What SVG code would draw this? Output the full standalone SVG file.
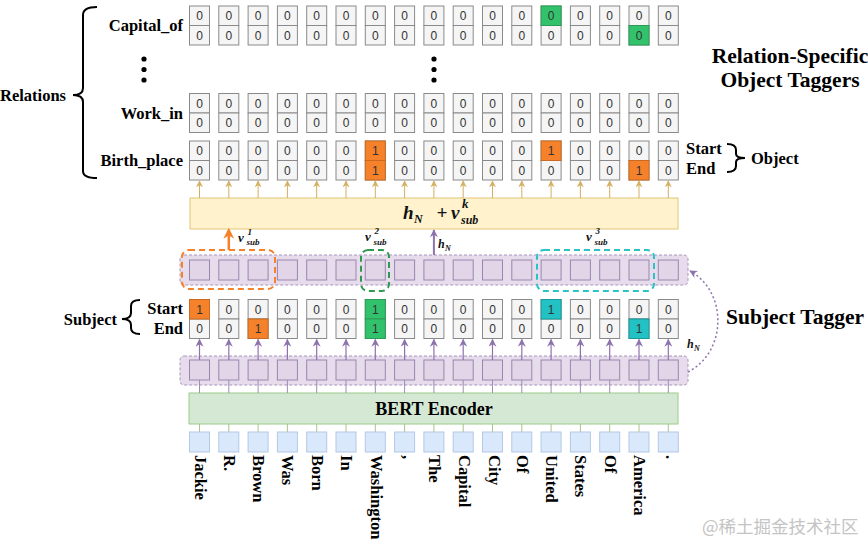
<svg xmlns="http://www.w3.org/2000/svg" width="868" height="543" viewBox="0 0 868 543">
<style>
.lbl{font-family:"Liberation Serif","Times New Roman",serif;font-weight:bold;fill:#000}
.num{font-family:"Liberation Sans",Arial,sans-serif;font-size:12px;fill:#333;text-anchor:middle}
.cell{fill:#f5f5f5;stroke:#8a8a8a;stroke-width:1}
.math{font-family:"Liberation Serif","Times New Roman",serif;font-weight:bold;font-style:italic;fill:#111}
.sq{fill:#e1d5e7;stroke:#9a86ad;stroke-width:1}
.band{fill:#e6dcec;stroke:#a995bb;stroke-width:1;stroke-dasharray:3 2}
.tok{fill:#dae8fc;stroke:#b3c8e6;stroke-width:1}
.or{fill:#f5822a;stroke:#c96a20}
.gr{fill:#33c26c;stroke:#2a9c57}
.cy{fill:#22c1c3;stroke:#1a9a9c}
.brace{fill:none;stroke:#000;stroke-width:2}
.word{font-family:"Liberation Serif","Times New Roman",serif;font-weight:bold;font-size:16.5px;fill:#000}
</style>
<defs>
<g id="pair">
<rect class="cell" x="0" y="0" width="20" height="19.5"/>
<rect class="cell" x="0" y="19.5" width="20" height="19.5"/>
<text class="num" x="10" y="14">0</text>
<text class="num" x="10" y="33.5">0</text>
</g>
<rect id="sq" class="sq" width="20" height="20"/>
<rect id="tk" class="tok" width="20" height="20"/>
<marker id="ag" viewBox="0 0 10 10" refX="9" refY="5" markerWidth="7" markerHeight="7" markerUnits="userSpaceOnUse" orient="auto"><path d="M0,0 L10,5 L0,10 L3,5 z" fill="#d4b062"/></marker>
<marker id="ap" viewBox="0 0 10 10" refX="9" refY="5" markerWidth="8" markerHeight="8" markerUnits="userSpaceOnUse" orient="auto"><path d="M0,0 L10,5 L0,10 L3,5 z" fill="#8e72ad"/></marker>
<marker id="ao" viewBox="0 0 10 10" refX="8" refY="5" markerWidth="11" markerHeight="11" markerUnits="userSpaceOnUse" orient="auto"><path d="M0,0 L10,5 L0,10 L3,5 z" fill="#f5822a"/></marker>
</defs>
<rect width="868" height="543" fill="#fff"/>

<g id="relations-label">
<text class="lbl" x="66" y="100.5" font-size="16.5" text-anchor="end">Relations</text>
<path class="brace" d="M97 7 Q83 7 83 15 L83 88 Q83 95 73 95 Q83 95 83 102 L83 171 Q83 178 97 178"/>
<circle cx="144" cy="59" r="2.6"/><circle cx="144" cy="69.5" r="2.6"/><circle cx="144" cy="80" r="2.6"/>
<circle cx="434" cy="59" r="2.6"/><circle cx="434" cy="69.5" r="2.6"/><circle cx="434" cy="80" r="2.6"/>
</g>

<g id="capital-of-tagger">
<text class="lbl" x="183" y="31" font-size="16.5" text-anchor="end">Capital_of</text>
<use href="#pair" x="189.5" y="6"/><use href="#pair" x="218.8" y="6"/><use href="#pair" x="248.1" y="6"/><use href="#pair" x="277.4" y="6"/><use href="#pair" x="306.7" y="6"/><use href="#pair" x="336" y="6"/><use href="#pair" x="365.3" y="6"/><use href="#pair" x="394.6" y="6"/><use href="#pair" x="423.9" y="6"/><use href="#pair" x="453.2" y="6"/><use href="#pair" x="482.5" y="6"/><use href="#pair" x="511.8" y="6"/><use href="#pair" x="541.1" y="6"/><use href="#pair" x="570.4" y="6"/><use href="#pair" x="599.7" y="6"/><use href="#pair" x="629" y="6"/><use href="#pair" x="658.3" y="6"/>
<rect class="gr" x="541.1" y="6" width="20" height="19.5"/><text class="num" x="551.1" y="20">0</text>
<rect class="gr" x="629" y="25.5" width="20" height="19.5"/><text class="num" x="639" y="39.5">0</text>
</g>

<g id="work-in-tagger">
<text class="lbl" x="183" y="118.5" font-size="16.5" text-anchor="end">Work_in</text>
<use href="#pair" x="189.5" y="93.5"/><use href="#pair" x="218.8" y="93.5"/><use href="#pair" x="248.1" y="93.5"/><use href="#pair" x="277.4" y="93.5"/><use href="#pair" x="306.7" y="93.5"/><use href="#pair" x="336" y="93.5"/><use href="#pair" x="365.3" y="93.5"/><use href="#pair" x="394.6" y="93.5"/><use href="#pair" x="423.9" y="93.5"/><use href="#pair" x="453.2" y="93.5"/><use href="#pair" x="482.5" y="93.5"/><use href="#pair" x="511.8" y="93.5"/><use href="#pair" x="541.1" y="93.5"/><use href="#pair" x="570.4" y="93.5"/><use href="#pair" x="599.7" y="93.5"/><use href="#pair" x="629" y="93.5"/><use href="#pair" x="658.3" y="93.5"/>
</g>

<g id="birth-place-tagger">
<text class="lbl" x="183" y="166" font-size="16.5" text-anchor="end">Birth_place</text>
<use href="#pair" x="189.5" y="141"/><use href="#pair" x="218.8" y="141"/><use href="#pair" x="248.1" y="141"/><use href="#pair" x="277.4" y="141"/><use href="#pair" x="306.7" y="141"/><use href="#pair" x="336" y="141"/><use href="#pair" x="365.3" y="141"/><use href="#pair" x="394.6" y="141"/><use href="#pair" x="423.9" y="141"/><use href="#pair" x="453.2" y="141"/><use href="#pair" x="482.5" y="141"/><use href="#pair" x="511.8" y="141"/><use href="#pair" x="541.1" y="141"/><use href="#pair" x="570.4" y="141"/><use href="#pair" x="599.7" y="141"/><use href="#pair" x="629" y="141"/><use href="#pair" x="658.3" y="141"/>
<rect class="or" x="365.3" y="141" width="20" height="19.5"/><text class="num" x="375.3" y="155">1</text>
<rect class="or" x="365.3" y="160.5" width="20" height="19.5"/><text class="num" x="375.3" y="174.5">1</text>
<rect class="or" x="541.1" y="141" width="20" height="19.5"/><text class="num" x="551.1" y="155">1</text>
<rect class="or" x="629" y="160.5" width="20" height="19.5"/><text class="num" x="639" y="174.5">1</text>
</g>

<g id="object-label">
<text class="lbl" x="686" y="153.5" font-size="16.5">Start</text>
<text class="lbl" x="686" y="173.5" font-size="16.5">End</text>
<path class="brace" d="M727 144 Q736 144 736 150 L736 154 Q736 158 745 158 Q736 158 736 162 L736 166 Q736 172 727 172"/>
<text class="lbl" x="751" y="164" font-size="16.5">Object</text>
</g>

<g id="title-object-taggers">
<text class="lbl" x="790" y="63" font-size="21.5" text-anchor="middle">Relation-Specific</text>
<text class="lbl" x="790" y="87" font-size="21.5" text-anchor="middle">Object Taggers</text>
</g>

<g id="fusion-layer">
<rect x="190" y="198" width="488" height="31" fill="#fff2cc" stroke="#e2c676" stroke-width="1"/>
<text class="math" x="403" y="219" font-size="19">h</text>
<text class="math" x="414" y="223" font-size="12">N</text>
<text class="math" x="436.5" y="219" font-size="19" font-style="normal">+</text>
<text class="math" x="451" y="219" font-size="19">v</text>
<text class="math" x="462" y="208" font-size="13">k</text>
<text class="math" x="461" y="224" font-size="12">sub</text>
</g>

<g id="subject-hidden-upper">
<rect class="band" x="180" y="255" width="508" height="30" rx="4"/>
<use href="#sq" x="189.5" y="260"/><use href="#sq" x="218.8" y="260"/><use href="#sq" x="248.1" y="260"/><use href="#sq" x="277.4" y="260"/><use href="#sq" x="306.7" y="260"/><use href="#sq" x="336" y="260"/><use href="#sq" x="365.3" y="260"/><use href="#sq" x="394.6" y="260"/><use href="#sq" x="423.9" y="260"/><use href="#sq" x="453.2" y="260"/><use href="#sq" x="482.5" y="260"/><use href="#sq" x="511.8" y="260"/><use href="#sq" x="541.1" y="260"/><use href="#sq" x="570.4" y="260"/><use href="#sq" x="599.7" y="260"/><use href="#sq" x="629" y="260"/><use href="#sq" x="658.3" y="260"/>
</g>

<g id="subject-spans">
<rect x="182" y="250" width="93" height="39" rx="7" fill="none" stroke="#f5822a" stroke-width="2" stroke-dasharray="6 4"/>
<rect x="361" y="250" width="28" height="41" rx="7" fill="none" stroke="#2f9a4f" stroke-width="2" stroke-dasharray="6 4"/>
<rect x="537" y="250" width="117" height="41" rx="7" fill="none" stroke="#2cc2c8" stroke-width="2" stroke-dasharray="6 4"/>
<text class="math" x="238" y="242" font-size="13">v</text><text class="math" x="247.5" y="235" font-size="9" font-style="normal">1</text><text class="math" x="246.5" y="245" font-size="9">sub</text>
<text class="math" x="365" y="241" font-size="13">v</text><text class="math" x="374.5" y="234" font-size="9" font-style="normal">2</text><text class="math" x="373.5" y="245" font-size="9">sub</text>
<text class="math" x="586" y="241" font-size="13">v</text><text class="math" x="595.5" y="234" font-size="9" font-style="normal">3</text><text class="math" x="594.5" y="245" font-size="9">sub</text>
<text class="math" x="438" y="248" font-size="12">h</text><text class="math" x="445" y="251" font-size="8">N</text>
</g>

<g id="subject-tagger">
<use href="#pair" x="189.5" y="299.5"/><use href="#pair" x="218.8" y="299.5"/><use href="#pair" x="248.1" y="299.5"/><use href="#pair" x="277.4" y="299.5"/><use href="#pair" x="306.7" y="299.5"/><use href="#pair" x="336" y="299.5"/><use href="#pair" x="365.3" y="299.5"/><use href="#pair" x="394.6" y="299.5"/><use href="#pair" x="423.9" y="299.5"/><use href="#pair" x="453.2" y="299.5"/><use href="#pair" x="482.5" y="299.5"/><use href="#pair" x="511.8" y="299.5"/><use href="#pair" x="541.1" y="299.5"/><use href="#pair" x="570.4" y="299.5"/><use href="#pair" x="599.7" y="299.5"/><use href="#pair" x="629" y="299.5"/><use href="#pair" x="658.3" y="299.5"/>
<rect class="or" x="189.5" y="299.5" width="20" height="19.5"/><text class="num" x="199.5" y="313.5">1</text>
<rect class="or" x="248.1" y="319" width="20" height="19.5"/><text class="num" x="258.1" y="333">1</text>
<rect class="gr" x="365.3" y="299.5" width="20" height="19.5"/><text class="num" x="375.3" y="313.5">1</text>
<rect class="gr" x="365.3" y="319" width="20" height="19.5"/><text class="num" x="375.3" y="333">1</text>
<rect class="cy" x="541.1" y="299.5" width="20" height="19.5"/><text class="num" x="551.1" y="313.5">1</text>
<rect class="cy" x="629" y="319" width="20" height="19.5"/><text class="num" x="639" y="333">1</text>
</g>

<g id="subject-label">
<text class="lbl" x="117" y="325" font-size="16.5" text-anchor="end">Subject</text>
<path class="brace" d="M140 300 Q131 300 131 306 L131 313 Q131 319 122 319 Q131 319 131 325 L131 328 Q131 334 140 334"/>
<text class="lbl" x="183" y="313.5" font-size="16.5" text-anchor="end">Start</text>
<text class="lbl" x="183" y="333.5" font-size="16.5" text-anchor="end">End</text>
<text class="lbl" x="795" y="324" font-size="21.5" text-anchor="middle">Subject Tagger</text>
</g>

<g id="subject-hidden-lower">
<rect class="band" x="180" y="356" width="508" height="29" rx="4"/>
<use href="#sq" x="189.5" y="360"/><use href="#sq" x="218.8" y="360"/><use href="#sq" x="248.1" y="360"/><use href="#sq" x="277.4" y="360"/><use href="#sq" x="306.7" y="360"/><use href="#sq" x="336" y="360"/><use href="#sq" x="365.3" y="360"/><use href="#sq" x="394.6" y="360"/><use href="#sq" x="423.9" y="360"/><use href="#sq" x="453.2" y="360"/><use href="#sq" x="482.5" y="360"/><use href="#sq" x="511.8" y="360"/><use href="#sq" x="541.1" y="360"/><use href="#sq" x="570.4" y="360"/><use href="#sq" x="599.7" y="360"/><use href="#sq" x="629" y="360"/><use href="#sq" x="658.3" y="360"/>
</g>

<g id="bert-encoder">
<rect x="189" y="393" width="489" height="31" fill="#d5e8d4" stroke="#9ccc8a" stroke-width="1"/>
<text class="lbl" x="434" y="414.5" font-size="18" text-anchor="middle">BERT Encoder</text>
</g>

<g id="tokens">
<use href="#tk" x="189.5" y="432"/><use href="#tk" x="218.8" y="432"/><use href="#tk" x="248.1" y="432"/><use href="#tk" x="277.4" y="432"/><use href="#tk" x="306.7" y="432"/><use href="#tk" x="336" y="432"/><use href="#tk" x="365.3" y="432"/><use href="#tk" x="394.6" y="432"/><use href="#tk" x="423.9" y="432"/><use href="#tk" x="453.2" y="432"/><use href="#tk" x="482.5" y="432"/><use href="#tk" x="511.8" y="432"/><use href="#tk" x="541.1" y="432"/><use href="#tk" x="570.4" y="432"/><use href="#tk" x="599.7" y="432"/><use href="#tk" x="629" y="432"/><use href="#tk" x="658.3" y="432"/>
<text class="word" transform="translate(194.5,455) rotate(90)">Jackie</text>
<text class="word" transform="translate(223.8,455) rotate(90)">R.</text>
<text class="word" transform="translate(253.1,455) rotate(90)">Brown</text>
<text class="word" transform="translate(282.4,455) rotate(90)">Was</text>
<text class="word" transform="translate(311.7,455) rotate(90)">Born</text>
<text class="word" transform="translate(341,455) rotate(90)">In</text>
<text class="word" transform="translate(371.3,455) rotate(90)">Washington</text>
<text class="word" transform="translate(402.6,455) rotate(90)">,</text>
<text class="word" transform="translate(428.9,455) rotate(90)">The</text>
<text class="word" transform="translate(459.2,455) rotate(90)">Capital</text>
<text class="word" transform="translate(488.5,455) rotate(90)">City</text>
<text class="word" transform="translate(516.8,455) rotate(90)">Of</text>
<text class="word" transform="translate(546.1,455) rotate(90)">United</text>
<text class="word" transform="translate(575.4,455) rotate(90)">States</text>
<text class="word" transform="translate(604.7,455) rotate(90)">Of</text>
<text class="word" transform="translate(634,455) rotate(90)">America</text>
<text class="word" transform="translate(666.3,455) rotate(90)">.</text>
</g>

<g id="connectors">
<g stroke="#a9c48f" stroke-width="1">
<line x1="199.5" y1="432" x2="199.5" y2="424"/><line x1="228.8" y1="432" x2="228.8" y2="424"/><line x1="258.1" y1="432" x2="258.1" y2="424"/><line x1="287.4" y1="432" x2="287.4" y2="424"/><line x1="316.7" y1="432" x2="316.7" y2="424"/><line x1="346" y1="432" x2="346" y2="424"/><line x1="375.3" y1="432" x2="375.3" y2="424"/><line x1="404.6" y1="432" x2="404.6" y2="424"/><line x1="433.9" y1="432" x2="433.9" y2="424"/><line x1="463.2" y1="432" x2="463.2" y2="424"/><line x1="492.5" y1="432" x2="492.5" y2="424"/><line x1="521.8" y1="432" x2="521.8" y2="424"/><line x1="551.1" y1="432" x2="551.1" y2="424"/><line x1="580.4" y1="432" x2="580.4" y2="424"/><line x1="609.7" y1="432" x2="609.7" y2="424"/><line x1="639" y1="432" x2="639" y2="424"/><line x1="668.3" y1="432" x2="668.3" y2="424"/>
</g>
<g stroke="#9f8db3" stroke-width="1">
<line x1="199.5" y1="393" x2="199.5" y2="380"/><line x1="228.8" y1="393" x2="228.8" y2="380"/><line x1="258.1" y1="393" x2="258.1" y2="380"/><line x1="287.4" y1="393" x2="287.4" y2="380"/><line x1="316.7" y1="393" x2="316.7" y2="380"/><line x1="346" y1="393" x2="346" y2="380"/><line x1="375.3" y1="393" x2="375.3" y2="380"/><line x1="404.6" y1="393" x2="404.6" y2="380"/><line x1="433.9" y1="393" x2="433.9" y2="380"/><line x1="463.2" y1="393" x2="463.2" y2="380"/><line x1="492.5" y1="393" x2="492.5" y2="380"/><line x1="521.8" y1="393" x2="521.8" y2="380"/><line x1="551.1" y1="393" x2="551.1" y2="380"/><line x1="580.4" y1="393" x2="580.4" y2="380"/><line x1="609.7" y1="393" x2="609.7" y2="380"/><line x1="639" y1="393" x2="639" y2="380"/><line x1="668.3" y1="393" x2="668.3" y2="380"/>
</g>
<g stroke="#8e72ad" stroke-width="1.2" marker-end="url(#ap)">
<line x1="199.5" y1="360" x2="199.5" y2="339.5"/><line x1="228.8" y1="360" x2="228.8" y2="339.5"/><line x1="258.1" y1="360" x2="258.1" y2="339.5"/><line x1="287.4" y1="360" x2="287.4" y2="339.5"/><line x1="316.7" y1="360" x2="316.7" y2="339.5"/><line x1="346" y1="360" x2="346" y2="339.5"/><line x1="375.3" y1="360" x2="375.3" y2="339.5"/><line x1="404.6" y1="360" x2="404.6" y2="339.5"/><line x1="433.9" y1="360" x2="433.9" y2="339.5"/><line x1="463.2" y1="360" x2="463.2" y2="339.5"/><line x1="492.5" y1="360" x2="492.5" y2="339.5"/><line x1="521.8" y1="360" x2="521.8" y2="339.5"/><line x1="551.1" y1="360" x2="551.1" y2="339.5"/><line x1="580.4" y1="360" x2="580.4" y2="339.5"/><line x1="609.7" y1="360" x2="609.7" y2="339.5"/><line x1="639" y1="360" x2="639" y2="339.5"/><line x1="668.3" y1="360" x2="668.3" y2="339.5"/>
</g>
<g stroke="#d4b062" stroke-width="1" marker-end="url(#ag)">
<line x1="199.5" y1="198" x2="199.5" y2="181"/><line x1="228.8" y1="198" x2="228.8" y2="181"/><line x1="258.1" y1="198" x2="258.1" y2="181"/><line x1="287.4" y1="198" x2="287.4" y2="181"/><line x1="316.7" y1="198" x2="316.7" y2="181"/><line x1="346" y1="198" x2="346" y2="181"/><line x1="375.3" y1="198" x2="375.3" y2="181"/><line x1="404.6" y1="198" x2="404.6" y2="181"/><line x1="433.9" y1="198" x2="433.9" y2="181"/><line x1="463.2" y1="198" x2="463.2" y2="181"/><line x1="492.5" y1="198" x2="492.5" y2="181"/><line x1="521.8" y1="198" x2="521.8" y2="181"/><line x1="551.1" y1="198" x2="551.1" y2="181"/><line x1="580.4" y1="198" x2="580.4" y2="181"/><line x1="609.7" y1="198" x2="609.7" y2="181"/><line x1="639" y1="198" x2="639" y2="181"/><line x1="668.3" y1="198" x2="668.3" y2="181"/>
</g>
<line x1="228.8" y1="250" x2="228.8" y2="230" stroke="#f5822a" stroke-width="2.5" marker-end="url(#ao)"/>
<line x1="433.9" y1="255" x2="433.9" y2="230" stroke="#8e72ad" stroke-width="2" marker-end="url(#ap)"/>
<path d="M688 372 C727 352 728 292 690 271" fill="none" stroke="#8e72ad" stroke-width="1.5" stroke-dasharray="2 2.5" marker-end="url(#ap)"/>
<text class="math" x="687" y="348" font-size="12">h</text><text class="math" x="694" y="351" font-size="8">N</text>
</g>

<text x="702" y="533" font-family="'Noto Sans CJK SC',sans-serif" font-size="17.5" fill="#c4c4c4">@稀土掘金技术社区</text>
</svg>
